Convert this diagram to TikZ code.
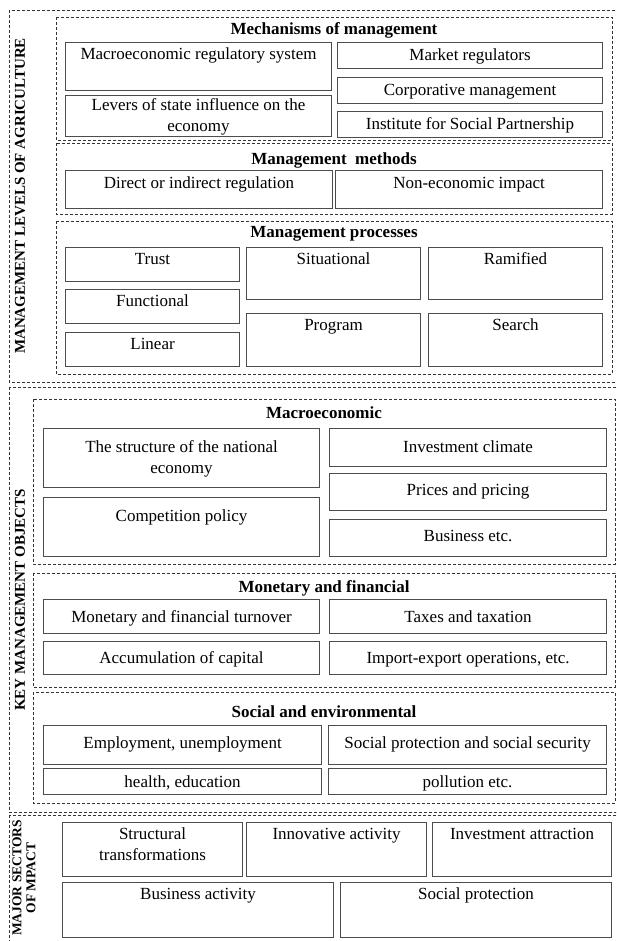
\documentclass[tikz,border=0pt]{standalone}
\usepackage{fontspec}
\setmainfont{Liberation Serif}
\newcommand{\boxcell}[4][3]{\parbox[c][#3pt][t]{#2pt}{\centering\fontsize{17}{21}\selectfont\vspace*{#1pt}\strut #4\par}}
\begin{document}
\begin{tikzpicture}[x=1pt,y=-1pt,
  cellbox/.style={draw=black!70,line width=1.1pt,inner sep=0pt,anchor=north west},
  groupframe/.style={draw=black!80,line width=0.7pt,dash pattern=on 3pt off 2pt},
  grouptitle/.style={font=\fontsize{17}{21}\selectfont\bfseries},
  sidelabel/.style={font=\fontsize{15}{15}\selectfont\bfseries,rotate=90,align=center}]
  \useasboundingbox (0,0) rectangle (616,941);
  \clip (0,0) rectangle (616,941);

  \draw[groupframe] (9,10) rectangle (640,382);
  \node[sidelabel] (levels) at (20,196) {MANAGEMENT LEVELS OF AGRICULTURE};

  \draw[groupframe] (56,17) rectangle (612,140);
  \node[grouptitle] (mechanisms) at (334,30) {Mechanisms of management};
  \node[cellbox] (macrosys) at (65,42) {\boxcell[2]{266}{48}{Macroeconomic regulatory system}};
  \node[cellbox] (levers) at (65,95) {\boxcell[0]{266}{41}{Levers of state influence on the\\economy}};
  \node[cellbox] (market) at (337,42) {\boxcell[3]{265}{26}{Market regulators}};
  \node[cellbox] (corporative) at (337,77) {\boxcell[3]{265}{26}{Corporative management}};
  \node[cellbox] (institute) at (337,111) {\boxcell[3]{265}{26}{Institute for Social Partnership}};

  \draw[groupframe] (56,143) rectangle (612,214);
  \node[grouptitle] (methods) at (334,160) {Management~ methods};
  \node[cellbox] (direct) at (65,170) {\boxcell[3]{267}{38}{Direct or indirect regulation}};
  \node[cellbox] (noneconomic) at (335,170) {\boxcell[3]{267}{38}{Non-economic impact}};

  \draw[groupframe] (56,221) rectangle (612,374);
  \node[grouptitle] (processes) at (334,234) {Management processes};
  \node[cellbox] (trust) at (65,247) {\boxcell[2]{174}{34}{Trust}};
  \node[cellbox] (functional) at (65,289) {\boxcell[2]{174}{34}{Functional}};
  \node[cellbox] (linear) at (65,332) {\boxcell[2]{174}{34}{Linear}};
  \node[cellbox] (situational) at (246,247) {\boxcell[2]{174}{52}{Situational}};
  \node[cellbox] (program) at (246,313) {\boxcell[2]{174}{53}{Program}};
  \node[cellbox] (ramified) at (428,247) {\boxcell[2]{174}{52}{Ramified}};
  \node[cellbox] (search) at (428,313) {\boxcell[2]{174}{53}{Search}};

  \draw[groupframe] (9,387) rectangle (640,812);
  \node[sidelabel] (objects) at (20,600) {KEY MANAGEMENT OBJECTS};

  \draw[groupframe] (33,399) rectangle (615,564);
  \node[grouptitle] (macroeconomic) at (324,413) {Macroeconomic};
  \node[cellbox] (structure) at (43,428) {\boxcell[9]{276}{59}{The structure of the national\\economy}};
  \node[cellbox] (competition) at (43,497) {\boxcell[9]{276}{59}{Competition policy}};
  \node[cellbox] (climate) at (329,428) {\boxcell[9]{277}{38}{Investment climate}};
  \node[cellbox] (prices) at (329,473) {\boxcell[7]{277}{37}{Prices and pricing}};
  \node[cellbox] (business) at (329,519) {\boxcell[7]{277}{37}{Business etc.}};

  \draw[groupframe] (33,573) rectangle (615,687);
  \node[grouptitle] (monetary) at (324,588) {Monetary and financial};
  \node[cellbox] (turnover) at (43,599) {\boxcell[8]{276}{34}{Monetary and financial turnover}};
  \node[cellbox] (taxes) at (329,599) {\boxcell[8]{277}{34}{Taxes and taxation}};
  \node[cellbox] (capital) at (43,641) {\boxcell[7]{276}{33}{Accumulation of capital}};
  \node[cellbox] (importexport) at (329,641) {\boxcell[7]{277}{33}{Import-export operations, etc.}};

  \draw[groupframe] (33,692) rectangle (615,803);
  \node[grouptitle] (social) at (324,712) {Social and environmental};
  \node[cellbox] (employment) at (43,725) {\boxcell[8]{278}{39}{Employment, unemployment}};
  \node[cellbox] (security) at (328,725) {\boxcell[8]{278}{39}{Social protection and social security}};
  \node[cellbox] (health) at (43,768) {\boxcell[4]{278}{26}{health, education}};
  \node[cellbox] (pollution) at (328,768) {\boxcell[4]{278}{26}{pollution etc.}};

  \draw[groupframe] (9,815) rectangle (640,980);
  \node[sidelabel,font=\fontsize{13.5}{14}\selectfont\bfseries] (sectors) at (24,878) {MAJOR SECTORS\\OF MPACT};
  \node[cellbox] (structural) at (62,822) {\boxcell[2]{180}{54}{Structural\\transformations}};
  \node[cellbox] (innovative) at (246,822) {\boxcell[2]{180}{54}{Innovative activity}};
  \node[cellbox] (attraction) at (432,822) {\boxcell[2]{179}{54}{Investment attraction}};
  \node[cellbox] (activity) at (62,882) {\boxcell[2]{271}{55}{Business activity}};
  \node[cellbox] (protection) at (340,882) {\boxcell[2]{271}{55}{Social protection}};
\end{tikzpicture}
\end{document}
